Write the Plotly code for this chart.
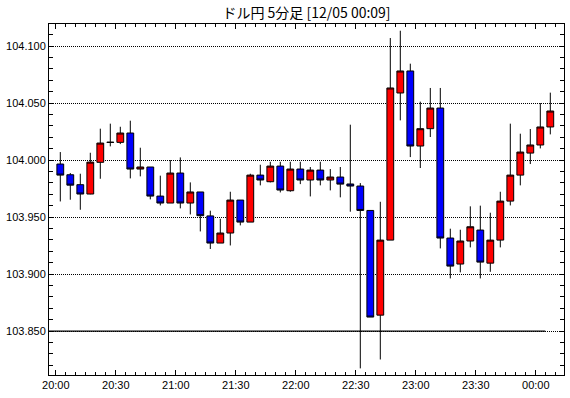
import plotly.graph_objects as go

# ---- data ----
times = ["20:00", "20:05", "20:10", "20:15", "20:20", "20:25", "20:30", "20:35", "20:40", "20:45",
         "20:50", "20:55", "21:00", "21:05", "21:10", "21:15", "21:20", "21:25", "21:30", "21:35",
         "21:40", "21:45", "21:50", "21:55", "22:00", "22:05", "22:10", "22:15", "22:20", "22:25",
         "22:30", "22:35", "22:40", "22:45", "22:50", "22:55", "23:00", "23:05", "23:10", "23:15",
         "23:20", "23:25", "23:30", "23:35", "23:40", "23:45", "23:50", "23:55", "00:00", "00:05"]

opens = [103.9965, 103.9871, 103.9784, 103.9702, 103.9980, 104.0154, 104.0155, 104.0237, 103.9921, 103.9939,
         103.9684, 103.9623, 103.9886, 103.9623, 103.9720, 103.9510, 103.9272, 103.9360, 103.9649, 103.9456,
         103.9868, 103.9810, 103.9947, 103.9731, 103.9921, 103.9825, 103.9912, 103.9825, 103.9851, 103.9790,
         103.9772, 103.9558, 103.8640, 103.9298, 104.0588, 104.0781, 104.0123, 104.0275, 104.0456, 103.9316,
         103.9088, 103.9290, 103.9386, 103.9096, 103.9298, 103.9640, 103.9868, 104.0061, 104.0132, 104.0290]

highs = [104.0070, 103.9886, 103.9880, 104.0064, 104.0275, 104.0319, 104.0292, 104.0345, 104.0108, 103.9939,
         103.9863, 104.0000, 104.0023, 103.9804, 103.9720, 103.9556, 103.9485, 103.9722, 103.9649, 103.9880,
         103.9959, 103.9985, 103.9985, 103.9985, 103.9985, 103.9939, 103.9985, 103.9921, 103.9939, 104.0310,
         103.9798, 103.9558, 103.9634, 104.1070, 104.1134, 104.0845, 104.0512, 104.0632, 104.0632, 103.9398,
         103.9389, 103.9594, 103.9600, 103.9538, 103.9722, 104.0319, 104.0231, 104.0272, 104.0500, 104.0591]

lows = [103.9637, 103.9652, 103.9564, 103.9700, 103.9836, 104.0120, 104.0140, 103.9839, 103.9857, 103.9655,
        103.9602, 103.9623, 103.9576, 103.9523, 103.9374, 103.9220, 103.9272, 103.9251, 103.9427, 103.9456,
        103.9778, 103.9804, 103.9716, 103.9722, 103.9789, 103.9681, 103.9778, 103.9734, 103.9673, 103.9547,
        103.8173, 103.8623, 103.8251, 103.9298, 104.0348, 104.0026, 103.9930, 104.0202, 103.9225, 103.8962,
        103.9015, 103.9234, 103.8962, 103.9020, 103.9234, 103.9602, 103.9778, 103.9965, 104.0102, 104.0225]

closes = [103.9868, 103.9780, 103.9702, 103.9982, 104.0149, 104.0156, 104.0237, 103.9921, 103.9939, 103.9684,
          103.9623, 103.9886, 103.9623, 103.9720, 103.9512, 103.9272, 103.9360, 103.9649, 103.9456, 103.9868,
          103.9825, 103.9947, 103.9737, 103.9921, 103.9825, 103.9912, 103.9825, 103.9851, 103.9789, 103.9772,
          103.9558, 103.8623, 103.9298, 104.0632, 104.0781, 104.0123, 104.0275, 104.0456, 103.9316, 103.9070,
          103.9290, 103.9415, 103.9105, 103.9298, 103.9640, 103.9868, 104.0070, 104.0132, 104.0290, 104.0430]

tick_labels = ["20:00", "20:30", "21:00", "21:30", "22:00", "22:30", "23:00", "23:30", "00:00"]
y_ticks = [103.850, 103.900, 103.950, 104.000, 104.050, 104.100]
ref_level = 103.850
title_text = "ドル円 5分足 [12/05 00:09]"


def to_min(t):
    h, m = map(int, t.split(":"))
    if h < 12:
        h += 24
    return (h - 20) * 60 + m


candle_offset = 2.25  # candles drawn slightly right of their time tick
xs = [to_min(t) + candle_offset for t in times]
tick_pos = [to_min(t) for t in tick_labels]

fig = go.Figure()
fig.add_trace(go.Candlestick(
    x=xs, open=opens, high=highs, low=lows, close=closes,
    increasing=dict(fillcolor="#FF0000", line=dict(color="#000000", width=1)),
    decreasing=dict(fillcolor="#0000FF", line=dict(color="#000000", width=1)),
    whiskerwidth=0, showlegend=False, hoverinfo="skip",
))

# solid reference line at 103.850 (ends just before last candle)
fig.add_shape(type="line", xref="x", yref="y",
              x0=-10, x1=xs[-1] - 2.5, y0=ref_level, y1=ref_level,
              line=dict(color="#000000", width=1.2), layer="above")

tick_font = dict(family="Liberation Sans, Arial, sans-serif", size=11, color="#000000")

fig.update_layout(
    template="none",
    width=570, height=398,
    margin=dict(l=49, r=6, t=24, b=23, autoexpand=False),
    paper_bgcolor="#FFFFFF", plot_bgcolor="#FFFFFF",
    boxgap=0.32, boxgroupgap=0,
    title=dict(text=title_text, x=0.5, xref="paper", xanchor="center",
               y=1 - 13 / 398, yanchor="middle",
               font=dict(family="Noto Sans CJK JP", size=14, color="#000000")),
    xaxis=dict(
        range=[-3.4, 254.1], rangeslider=dict(visible=False), automargin=False,
        tickmode="array", tickvals=tick_pos, ticktext=tick_labels,
        ticks="inside", ticklen=5, tickwidth=1, tickcolor="#000000",
        minor=dict(tickmode="linear", tick0=0, dtick=5, ticks="inside", ticklen=3,
                   tickwidth=1, tickcolor="#000000", showgrid=False),
        showgrid=False, zeroline=False,
        showline=True, linecolor="#000000", linewidth=1, mirror="ticks",
        tickfont=tick_font, fixedrange=True,
    ),
    yaxis=dict(
        range=[103.8115, 104.1193], automargin=False,
        tickmode="array", tickvals=y_ticks, ticktext=[f"{v:.3f}" for v in y_ticks],
        ticks="inside", ticklen=5, tickwidth=1, tickcolor="#000000",
        minor=dict(tickmode="linear", tick0=103.8, dtick=0.01, ticks="inside", ticklen=4,
                   tickwidth=1, tickcolor="#000000", showgrid=False),
        showgrid=True, gridcolor="#000000", gridwidth=1, griddash="1px,1px",
        zeroline=False,
        showline=True, linecolor="#000000", linewidth=1, mirror="ticks",
        tickfont=tick_font, fixedrange=True,
    ),
)

fig.write_html("out.html", config={"displayModeBar": False},
               post_script="document.body.style.margin='0';document.body.style.overflow='hidden';")
